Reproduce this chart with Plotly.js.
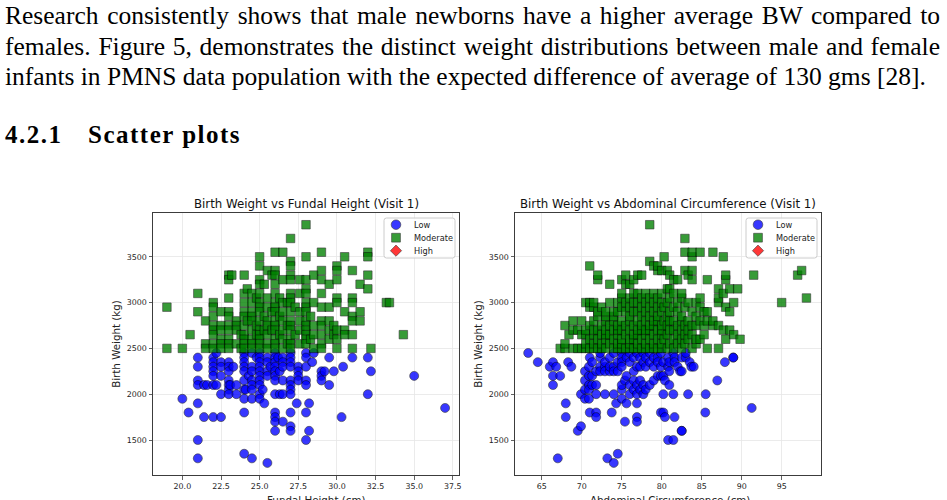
<!DOCTYPE html>
<html>
<head>
<meta charset="utf-8">
<script src="https://cdn.plot.ly/plotly-3.0.1.min.js"></script>
<style>
  html, body { margin: 0; padding: 0; background: #fff; width: 947px; height: 500px; overflow: hidden; }
  #chart { position: absolute; left: 0; top: 0; width: 947px; height: 500px; }
  .line { position: absolute; left: 5px; font-family: "Liberation Serif", "Times New Roman", serif;
          font-size: 25.5px; line-height: 30px; color: #000; text-align: justify; text-align-last: justify; }
  .last { text-align: left; text-align-last: left; white-space: nowrap; }
  .head { position: absolute; top: 120px; font-family: "Liberation Serif", serif; font-weight: bold;
          font-size: 25px; letter-spacing: 1.5px; line-height: 30px; color: #000; white-space: nowrap; }
</style>
</head>
<body>
<div id="chart"></div>
<div class="line" style="top:1px; width:935px;">Research consistently shows that male newborns have a higher average BW compared to</div>
<div class="line" style="top:32px; width:935px;">females. Figure 5, demonstrates the distinct weight distributions between male and female</div>
<div class="line last" style="top:62px;">infants in PMNS data population with the expected difference of average of 130 gms [28].</div>
<div class="head" style="left:5px;">4.2.1</div>
<div class="head" style="left:88px;">Scatter plots</div>
<script>
// Birth weight (g) grouped by measurement value: [measurement, [birth weights...]]
const fundalLow = [
  [20, [1950]], [20.4, [1800]],
  [21, [2400, 2300, 2150, 2100, 1900, 1500, 1300]], [21.4, [2100, 1750]], [21.6, [2100]],
  [22, [2400, 2350, 2300, 2250, 2200, 2100, 1750]], [22.2, [2450, 2100]],
  [22.5, [2350, 2300, 2200, 2000, 1750]],
  [23, [2350, 2300, 2250, 2150, 2100, 2050, 2000]], [23.1, [2100]], [23.3, [2300]],
  [23.5, [2100, 2000]],
  [24, [2450, 2400, 2350, 2300, 2250, 2150, 2050, 1950, 1800, 1350]], [24.1, [2050]], [24.3, [2200]],
  [24.5, [2450, 2300, 2250, 2150, 2100, 2050, 1950, 1300]],
  [24.8, [2400]],
  [25, [2450, 2400, 2350, 2300, 2250, 2200, 2150, 2100, 2000, 1950]], [25.2, [2050]], [25.3, [1900]],
  [25.5, [2400, 2350, 2250, 2200, 1250]], [25.7, [2300]],
  [26, [2450, 2400, 2350, 2300, 2250, 2200, 2150, 2000, 1800, 1750, 1700, 1600]], [26.2, [2400]], [26.3, [2250, 2000]],
  [26.5, [2400, 2350, 2300, 2150, 2000, 1700]],
  [27, [2450, 2400, 2350, 2300, 2150, 2100, 2050, 2000, 1800, 1650, 1600]],
  [27.5, [2300, 2250, 2200, 2150]], [27.4, [1900]],
  [28, [2450, 2400, 2300, 2150, 2100, 1800, 1500]], [28.2, [1900, 1600]],
  [28.5, [2450]], [28.4, [2350]],
  [29, [2250, 2200, 2150]], [29.2, [2250]], [29.5, [2400, 2100]], [29.8, [2250]],
  [30.4, [2300]], [30.3, [1750]], [31, [2400]],
  [32, [2400, 2000]], [32.2, [2250]], [35, [2200]], [37, [1850]]
];

const fundalModerate = [
  [19, [2950, 2500]], [20, [2500]], [20.5, [2650]],
  [21, [3100, 2900]], [21.5, [2800, 2550, 2500]],
  [22, [3000, 2950, 2850, 2750, 2700, 2650, 2550, 2500]],
  [22.5, [2900, 2750, 2700, 2600, 2550, 2500]],
  [23, [3300, 3250, 3050, 2900, 2850, 2750, 2700, 2600, 2550, 2500]], [23.2, [3300]],
  [23.5, [2800, 2750, 2700, 2550]], [23.8, [2650, 2500]],
  [24, [3300, 3100, 3000, 2900, 2850, 2750, 2650, 2600, 2550, 2500]], [24.2, [3150, 2800]],
  [24.5, [3100, 3000, 2900, 2850, 2800, 2700, 2600, 2550, 2500]], [24.8, [3050, 2750, 2650]],
  [25, [3500, 3400, 3250, 3200, 3100, 3000, 2950, 2900, 2800, 2700, 2650, 2600, 2550, 2500]],
  [25.3, [3200, 2850, 2700]],
  [25.5, [3350, 3050, 2950, 2800, 2750, 2650, 2550, 2500]], [25.8, [3300, 2900, 2700]],
  [26, [3550, 3350, 3300, 3200, 3100, 3000, 2950, 2900, 2800, 2750, 2700, 2600, 2550, 2500]],
  [26.3, [3050, 2850, 2650]],
  [26.5, [3550, 3250, 3000, 2900, 2800, 2700, 2600, 2500]], [26.8, [3000, 2750, 2550]],
  [27, [3700, 3450, 3400, 3300, 3250, 3100, 3050, 3000, 2900, 2800, 2750, 2700, 2600, 2550, 2500]],
  [27.3, [2950, 2650]], [27.6, [3250, 3100, 2900, 2800, 2700, 2550]],
  [28, [3850, 3500, 3250, 3150, 3100, 3000, 2950, 2900, 2800, 2750, 2700, 2650, 2600, 2550]],
  [28.3, [2850, 2600]], [28.5, [3300, 3000, 2750, 2650, 2500]],
  [29, [3550, 3350, 3250, 3100, 2950, 2800, 2750, 2650, 2550, 2500]],
  [29.5, [3200, 2950, 2800, 2700, 2600]], [29.8, [2750, 2650]],
  [30, [3400, 3350, 3250, 3050, 3000, 2700, 2600, 2500]],
  [30.5, [3500, 2900, 2700, 2650]],
  [31, [3350, 3050, 3000, 2850, 2800, 2650, 2500]], [31.5, [3200, 2900, 2800]],
  [32, [3550, 3500, 3300, 3150]], [32.2, [2500]],
  [33.2, [3000]], [33.4, [3000]], [34.3, [2650]]
];

const abdominalLow = [
  [63.3, [2450]], [64.5, [2350]], [66, [2300]], [66.4, [2350, 2200, 2100]], [66.8, [2300]],
  [67, [1300]], [67.3, [2200]], [68, [1900, 1750]], [68.3, [2350]], [68.7, [2300]],
  [69.5, [1600]], [69.9, [1650, 2000]],
  [70.4, [2250, 2150, 2050, 1950]], [70.9, [2300, 2200, 2100, 2050, 1950]], [71, [1800, 2400]],
  [71.3, [2200, 2100, 2350]], [71.8, [1800, 1750, 2100, 2000, 2250]],
  [72.3, [2300, 2250, 2400, 2450]], [72.9, [2000, 2300, 2250, 2350]], [73.2, [1300]],
  [73.5, [2400, 2250, 2300]], [73.75, [1800]], [74, [1250, 2000, 2300, 2250, 2450]], [74.3, [1900]],
  [74.5, [1350, 2250, 2350]], [75, [1950, 2450, 2400, 2350, 2300, 2050, 2100]],
  [75.4, [1700, 2150]], [75.6, [1900, 2200, 2400]], [76, [2350, 2100, 2450, 2000]],
  [76.5, [2250, 2400, 2150, 2050]], [76.9, [1900, 1750, 1700, 2100, 2000, 2300, 2450]],
  [77.3, [2150, 2400, 2050, 2300]], [77.7, [2100, 2000, 2350, 2450]], [78, [2300, 2050, 2400]],
  [78.5, [2100, 2350, 2450]], [79, [2300, 2150, 2400]], [79.5, [2400, 2200, 2350]],
  [79.9, [1800, 2200, 2450, 2300]], [80.2, [2000, 1800, 2350, 2200]], [80.4, [1750, 2150]],
  [80.8, [1500, 2300, 2400]], [80.95, [2100, 2250, 2350]], [81.45, [1500, 2000, 2450]],
  [81.6, [1750, 2400, 2350]], [82, [2300]], [82.3, [2250]], [82.5, [1600, 1600, 2250, 2400]],
  [83, [2400, 2450]], [83.3, [2000]], [83.5, [2350]], [83.7, [2300]], [84, [2300]],
  [85.45, [1800]], [85.5, [2000]], [86.95, [2150]], [87.9, [2350]], [88.95, [2400, 2400]], [91.25, [1850]]
];

const abdominalModerate = [
  [67.3, [2500]], [67.9, [2500, 2550, 2750]], [68.4, [2650]], [68.9, [2700, 2800, 2500]],
  [69.5, [2700, 2500]], [70, [2500, 2650, 2800]], [70.5, [2500, 2550, 2650, 2700, 3000]],
  [71, [2500, 2600, 2750, 2950, 3000, 3400]], [71.5, [2500, 2550, 2650, 2700, 2800, 2950, 3000]],
  [72, [2500, 2600, 2700, 2850, 2900, 3250, 3300]], [72.5, [2500, 2550, 2650, 2750, 2950]],
  [73, [2500, 2600, 2650, 2700, 2800, 2850, 2900]], [73.5, [2550, 2650, 2750, 3000, 3200]],
  [74, [2500, 2600, 2700, 2800, 2850, 2900]], [74.5, [2500, 2550, 2650, 2700, 2750, 2900, 3000]],
  [75, [2500, 2550, 2600, 2700, 2800, 2950, 3050, 3100, 3250]],
  [75.5, [2500, 2650, 2750, 2900, 3000, 3200, 3300]],
  [76, [2500, 2550, 2600, 2700, 2800, 2850, 2950, 3050, 3200]],
  [76.5, [2500, 2600, 2650, 2750, 2900, 3000, 3100, 3250]],
  [77, [2500, 2550, 2650, 2700, 2800, 2900, 3000, 3100, 3300]],
  [77.5, [2500, 2600, 2700, 2750, 2850, 2950, 3050, 3300]],
  [78, [2500, 2550, 2650, 2700, 2800, 2900, 3000, 3100]],
  [78.5, [2500, 2600, 2700, 2750, 2850, 2950, 3050, 3450, 3850]],
  [79, [2500, 2550, 2650, 2750, 2800, 2900, 3000, 3100, 3400]],
  [79.5, [2500, 2600, 2700, 2800, 2850, 2950, 3050, 3350, 3400]],
  [80, [2500, 2550, 2650, 2700, 2750, 2900, 3000, 3100, 3350]],
  [80.3, [2600, 2800, 2950, 3500]], [80.7, [2500, 2650, 2750, 2850, 3000, 3150, 3350]],
  [81, [2550, 2700, 2800, 2900, 3050, 3150, 3300]], [81.5, [2500, 2600, 2700, 2800, 2950, 3100, 3250]],
  [82, [2550, 2650, 2750, 2900, 3000, 3250]], [82.5, [2500, 2600, 2700, 2800, 2850, 3050, 3100]],
  [82.9, [2550, 2650, 2750, 2950, 3350, 3550, 3700]], [83.3, [2600, 2700, 2800, 3000, 3300]],
  [83.8, [2500, 2650, 2750, 2900, 3250, 3350, 3500, 3550]], [84.3, [2550, 2600, 2750, 2850, 3000]],
  [84.8, [2600, 2800, 2950, 3050, 3550]], [85.3, [2650, 2750, 2900]], [85.7, [2500, 2800, 2900, 3250]],
  [86.4, [2750, 2800, 3550]], [87.1, [2500, 2750, 3000, 3050, 3150]], [87.7, [2700, 3100, 3500]],
  [88, [2600, 2950, 3250, 3300]], [88.5, [2700, 2900, 3150]], [89, [2650, 3000]], [89.5, [3150]],
  [89.8, [2600]], [91.5, [3300]], [95, [3000]], [97, [3300]], [97.5, [3350]], [98.1, [3050]]
];

// no births fall in the high category in either panel
const fundalHigh = [];
const abdominalHigh = [];

const categories = ['Low', 'Moderate', 'High'];
const panelTitles = ['Birth Weight vs Fundal Height (Visit 1)', 'Birth Weight vs Abdominal Circumference (Visit 1)'];
const xTitles = ['Fundal Height (cm)', 'Abdominal Circumference (cm)'];
const yTitle = 'Birth Weight (kg)';

function flatten(groups) {
  const x = [], y = [];
  groups.forEach(([m, ws]) => ws.forEach(w => { x.push(m); y.push(w); }));
  return { x, y };
}

const styles = {
  Low:      { symbol: 'circle',  size: 9,   color: '#0000ff' },
  Moderate: { symbol: 'square',  size: 8.5, color: '#008000' },
  High:     { symbol: 'diamond', size: 10,  color: '#ff0000' }
};
const markerAlpha = 0.78;

function makeTraces(groupsByCat, xa, ya) {
  return categories.map((cat, i) => {
    const d = flatten(groupsByCat[i]);
    const s = styles[cat];
    return {
      type: 'scatter', mode: 'markers', name: cat, showlegend: false,
      x: d.x, y: d.y, xaxis: xa, yaxis: ya,
      marker: { symbol: s.symbol, size: s.size, color: s.color, opacity: markerAlpha,
                line: { color: '#000', width: 0.6 } },
      hoverinfo: 'x+y+name'
    };
  });
}

const traces = [
  ...makeTraces([fundalLow, fundalModerate, fundalHigh], 'x', 'y'),
  ...makeTraces([abdominalLow, abdominalModerate, abdominalHigh], 'x2', 'y2')
];

const W = 947, H = 500;
const box = { top: 213, bottom: 475, l1: 153, r1: 459, l2: 515, r2: 821 };
const px = v => v / W;          // pixel column -> paper x
const py = v => (H - v) / H;    // pixel row -> paper y

const axisCommon = {
  showline: true, mirror: true, linecolor: '#3c3c3c', linewidth: 1,
  ticks: 'outside', ticklen: 3.5, tickwidth: 0.8, tickcolor: '#3c3c3c',
  showgrid: true, gridcolor: '#e6e6e6', gridwidth: 0.8, zeroline: false,
  tickfont: { family: 'DejaVu Sans', size: 7.9, color: '#222' }
};
const yDomain = [py(box.bottom), py(box.top)];
const labelFont = { family: 'DejaVu Sans', size: 10.3, color: '#222' };

// compact legend (Low / Moderate / High) in each panel's upper-right corner
const shapes = [];
const annotations = [];
function addLegend(rightPx) {
  const w = 71, h = 40, top = 218, left = rightPx - 4 - w, r = 2.5;
  const L = left, R = left + w, T = top, B = top + h;
  shapes.push({
    type: 'path', xref: 'paper', yref: 'paper', layer: 'above',
    path: `M${px(L + r)},${py(T)} L${px(R - r)},${py(T)} Q${px(R)},${py(T)} ${px(R)},${py(T + r)} ` +
          `L${px(R)},${py(B - r)} Q${px(R)},${py(B)} ${px(R - r)},${py(B)} L${px(L + r)},${py(B)} ` +
          `Q${px(L)},${py(B)} ${px(L)},${py(B - r)} L${px(L)},${py(T + r)} Q${px(L)},${py(T)} ${px(L + r)},${py(T)} Z`,
    fillcolor: 'rgba(255,255,255,0.8)', line: { color: '#cccccc', width: 1 }
  });
  categories.forEach((cat, i) => {
    const s = styles[cat];
    const cx = L + 12, cy = T + 6.7 + 13 * i;
    const common = { xref: 'paper', yref: 'paper', layer: 'above', opacity: markerAlpha,
                     fillcolor: s.color, line: { color: '#000', width: 0.6 } };
    if (s.symbol === 'circle') {
      shapes.push({ ...common, type: 'circle', x0: px(cx - 4.8), x1: px(cx + 4.8), y0: py(cy + 4.8), y1: py(cy - 4.8) });
    } else if (s.symbol === 'square') {
      shapes.push({ ...common, type: 'rect', x0: px(cx - 4.4), x1: px(cx + 4.4), y0: py(cy + 4.4), y1: py(cy - 4.4) });
    } else {
      const d = 5.6;
      shapes.push({ ...common, type: 'path',
        path: `M${px(cx)},${py(cy - d)} L${px(cx + d)},${py(cy)} L${px(cx)},${py(cy + d)} L${px(cx - d)},${py(cy)} Z` });
    }
    annotations.push({
      text: cat, showarrow: false, xref: 'paper', yref: 'paper',
      x: px(L + 27.5), y: py(cy), xanchor: 'left', yanchor: 'middle',
      font: { family: 'DejaVu Sans', size: 8.2, color: '#222' }
    });
  });
}
addLegend(box.r1);
addLegend(box.r2);

// panel titles
panelTitles.forEach((t, i) => annotations.push({
  text: t, showarrow: false, xref: 'paper', yref: 'paper',
  x: i === 0 ? px((box.l1 + box.r1) / 2) : px((box.l2 + box.r2) / 2),
  y: py(box.top), xanchor: 'center', yanchor: 'bottom',
  font: { family: 'DejaVu Sans', size: 11.8, color: '#111' }
}));
// x-axis labels below the tick labels
xTitles.forEach((t, i) => annotations.push({
  text: t, showarrow: false, xref: 'paper', yref: 'paper',
  x: i === 0 ? px((box.l1 + box.r1) / 2 + 10) : px((box.l2 + box.r2) / 2 + 2),
  y: py(492), xanchor: 'center', yanchor: 'top', font: labelFont
}));

const layout = {
  width: W, height: H,
  margin: { l: 0, r: 0, t: 0, b: 0 },
  paper_bgcolor: 'rgba(0,0,0,0)', plot_bgcolor: '#fff',
  showlegend: false,
  xaxis: { ...axisCommon, domain: [px(box.l1), px(box.r1)], range: [18.1, 37.9], dtick: 2.5, tick0: 0,
           tickformat: '.1f', anchor: 'y' },
  yaxis: { ...axisCommon, domain: yDomain, range: [1118, 3978], dtick: 500, tick0: 0, anchor: 'x',
           title: { text: yTitle, font: labelFont, standoff: 4 } },
  xaxis2: { ...axisCommon, domain: [px(box.l2), px(box.r2)], range: [61.65, 99.92], dtick: 5, tick0: 0,
            anchor: 'y2' },
  yaxis2: { ...axisCommon, domain: yDomain, range: [1118, 3978], dtick: 500, tick0: 0, anchor: 'x2',
            title: { text: yTitle, font: labelFont, standoff: 4 } },
  shapes, annotations
};

Plotly.newPlot('chart', traces, layout, { displayModeBar: false, staticPlot: true });
</script>
</body>
</html>
